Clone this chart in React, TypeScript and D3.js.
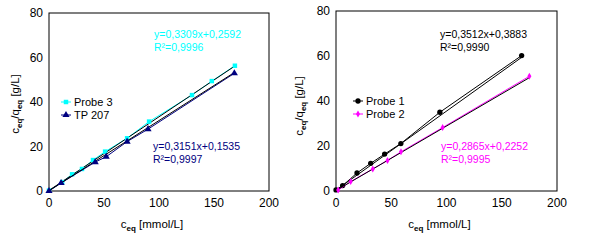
import React from 'react';
import * as d3 from 'd3';

// ---- data ----
const probe3X = [0, 12, 21, 30, 40, 51, 71, 91, 130, 148, 169];
const probe3Y = [0.2, 4.0, 7.5, 9.9, 13.9, 17.7, 23.7, 31.2, 43.1, 49.4, 56.3];
const tp207X = [0, 11, 42, 52, 71, 90, 168.5];
const tp207Y = [0, 3.6, 13.0, 15.4, 22.2, 27.8, 52.9];
const probe1X = [0, 6, 19, 31.4, 44, 58.7, 94, 168];
const probe1Y = [0.5, 2.4, 8.0, 12.3, 16.4, 21.1, 35.0, 60.2];
const probe2X = [2, 13.3, 33.3, 46.6, 58.8, 96.5, 175];
const probe2Y = [0.4, 4.2, 9.8, 13.6, 17.4, 28.2, 51.0];

const fitSlopes = [0.3309, 0.3151, 0.3512, 0.2865];
const fitIntercepts = [0.2592, 0.1535, 0.3883, 0.2252];
const eqLabels = ['y=0,3309x+0,2592', 'y=0,3151x+0,1535', 'y=0,3512x+0,3883', 'y=0,2865x+0,2252'];
const r2Labels = ['R²=0,9996', 'R²=0,9997', 'R²=0,9990', 'R²=0,9995'];
const seriesNames = ['Probe 3', 'TP 207', 'Probe 1', 'Probe 2'];
const xTicks = [0, 50, 100, 150, 200];
const yTicks = [0, 20, 40, 60, 80];

const FONT = '"Liberation Sans", Arial, sans-serif';

type Series = {
  name: string; xs: number[]; ys: number[]; color: string;
  symbol: d3.SymbolType; size: number; slope: number; intercept: number;
  eq: string; r2: string; eqX: number; eqY: number;
};

function Panel({ left, right, top, bottom, series, legendX, legendY, yLabelX, yLabelY }: {
  left: number; right: number; top: number; bottom: number; series: Series[];
  legendX: number; legendY: number; yLabelX: number; yLabelY: number;
}) {
  const x = d3.scaleLinear().domain([0, 200]).range([left, right]);
  const y = d3.scaleLinear().domain([0, 80]).range([bottom, top]);
  const line = d3.line<[number, number]>().x(d => x(d[0])).y(d => y(d[1]));
  const cx = (left + right) / 2 - 7;
  return (
    <g fontFamily={FONT}>
      <rect x={left} y={top} width={right - left} height={bottom - top} fill="white" stroke="black" strokeWidth={1} />
      {yTicks.map(t => (
        <text key={'y' + t} x={left - 6} y={y(t) + 4} textAnchor="end" fontSize={12}>{t}</text>
      ))}
      {xTicks.map(t => (
        <text key={'x' + t} x={x(t)} y={bottom + 16} textAnchor="middle" fontSize={12}>{t}</text>
      ))}
      {series.map(s => {
        const pts = s.xs.map((v, i) => [v, s.ys[i]] as [number, number]);
        const xmax = d3.max(s.xs) as number;
        const fit: [number, number][] = [[0, s.intercept], [xmax, s.slope * xmax + s.intercept]];
        return (
          <g key={s.name}>
            <path d={line(pts) || ''} fill="none" stroke={s.color} strokeWidth={1} />
            <path d={line(fit) || ''} fill="none" stroke="black" strokeWidth={1} />
            {pts.map((p, i) => (
              <path key={i} transform={`translate(${x(p[0])},${y(p[1])})`} d={d3.symbol().type(s.symbol).size(s.size)() || ''} fill={s.color} />
            ))}
            <text x={s.eqX} y={s.eqY} fontSize={10.5} fill={s.color}>{s.eq}</text>
            <text x={s.eqX} y={s.eqY + 12.5} fontSize={10.5} fill={s.color}>{s.r2}</text>
          </g>
        );
      })}
      {series.map((s, i) => (
        <g key={'lg' + i} transform={`translate(${legendX},${legendY + i * 13})`}>
          <line x1={0} x2={10} y1={-4} y2={-4} stroke={s.color} strokeWidth={1} />
          <path transform="translate(5,-4)" d={d3.symbol().type(s.symbol).size(s.size)() || ''} fill={s.color} />
          <text x={13} y={0} fontSize={11}>{s.name}</text>
        </g>
      ))}
      <text x={cx} y={bottom + 37} textAnchor="middle" fontSize={11.5}>
        c<tspan fontSize={8} fontWeight="bold" dy={3}>eq</tspan><tspan dy={-3}> [mmol/L]</tspan>
      </text>
      <text transform={`translate(${yLabelX},${yLabelY}) rotate(-90)`} textAnchor="middle" fontSize={11.5}>
        c<tspan fontSize={8} fontWeight="bold" dy={3}>eq</tspan><tspan dy={-3}>/q</tspan><tspan fontSize={8} fontWeight="bold" dy={3}>eq</tspan><tspan dy={-3}> [g/L]</tspan>
      </text>
    </g>
  );
}

export default function App() {
  const leftSeries: Series[] = [
    { name: seriesNames[0], xs: probe3X, ys: probe3Y, color: '#00ffff', symbol: d3.symbolSquare, size: 20, slope: fitSlopes[0], intercept: fitIntercepts[0], eq: eqLabels[0], r2: r2Labels[0], eqX: 154, eqY: 38 },
    { name: seriesNames[1], xs: tp207X, ys: tp207Y, color: '#000080', symbol: d3.symbolTriangle, size: 22, slope: fitSlopes[1], intercept: fitIntercepts[1], eq: eqLabels[1], r2: r2Labels[1], eqX: 153, eqY: 150 },
  ];
  const rightSeries: Series[] = [
    { name: seriesNames[2], xs: probe1X, ys: probe1Y, color: '#000000', symbol: d3.symbolCircle, size: 22, slope: fitSlopes[2], intercept: fitIntercepts[2], eq: eqLabels[2], r2: r2Labels[2], eqX: 440, eqY: 38 },
    { name: seriesNames[3], xs: probe2X, ys: probe2Y, color: '#ff00ff', symbol: d3.symbolDiamond, size: 14, slope: fitSlopes[3], intercept: fitIntercepts[3], eq: eqLabels[3], r2: r2Labels[3], eqX: 441, eqY: 150 },
  ];
  return (
    <svg width={598} height={240} style={{ position: 'absolute', left: 0, top: 0, background: 'white' }}>
      <rect x={0} y={0} width={598} height={240} fill="white" />
      <Panel left={49} right={269} top={13} bottom={191} series={leftSeries} legendX={61} legendY={106} yLabelX={19} yLabelY={104} />
      <Panel left={336} right={557} top={11} bottom={191} series={rightSeries} legendX={353} legendY={105} yLabelX={303} yLabelY={106} />
    </svg>
  );
}
